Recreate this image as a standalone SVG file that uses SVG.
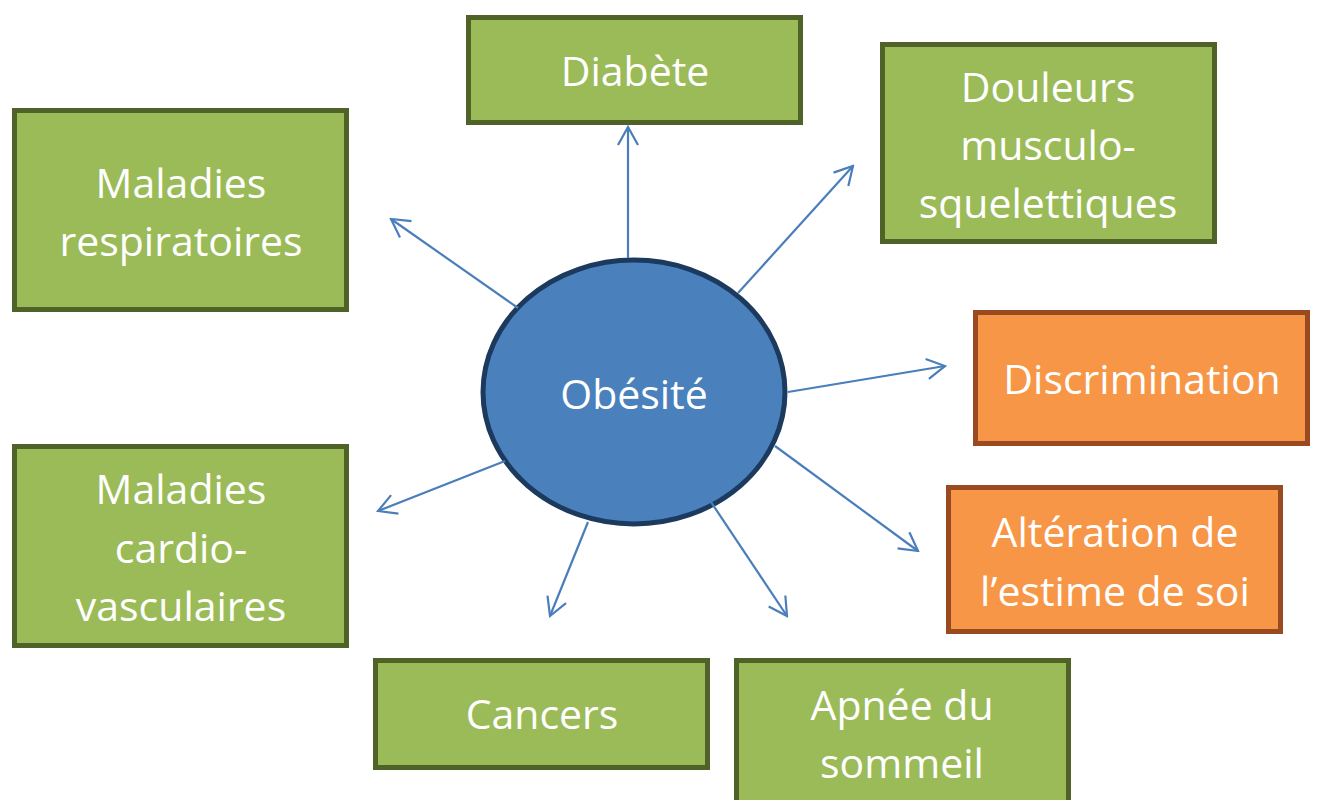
<svg xmlns="http://www.w3.org/2000/svg" width="1317" height="800" viewBox="0 0 1317 800">
<style>
.g{fill:#9bbb59;stroke:#4f6228;stroke-width:5}
.o{fill:#f79646;stroke:#9a4a20;stroke-width:5}
.t{font-family:"Open Sans","Liberation Sans",sans-serif;font-size:41px;fill:#ffffff;text-anchor:middle}
.c{stroke:#4a7ebb;stroke-width:2.2;fill:none;marker-end:url(#ah)}
</style>
<defs>
<marker id="ah" markerUnits="userSpaceOnUse" viewBox="-22 -12 24 24" refX="0" refY="0" markerWidth="24" markerHeight="24" orient="auto">
<path d="M-18,-10 L0,0 L-18,10" fill="none" stroke="#4a7ebb" stroke-width="2.2"/>
</marker>
</defs>
<rect width="1317" height="800" fill="#ffffff"/>
<g id="diabete"><rect class="g" x="468.5" y="17.5" width="332" height="105"/><text class="t" x="635" y="86">Diabète</text></g>
<g id="douleurs"><rect class="g" x="882.5" y="44.5" width="332" height="197"/><text class="t" x="1048" y="102">Douleurs</text><text class="t" x="1048" y="160">musculo-</text><text class="t" x="1048" y="218">squelettiques</text></g>
<g id="respiratoires"><rect class="g" x="14.5" y="110.5" width="332" height="199"/><text class="t" x="181" y="198">Maladies</text><text class="t" x="181" y="256">respiratoires</text></g>
<g id="discrimination"><rect class="o" x="975.5" y="312.5" width="332" height="131"/><text class="t" x="1142" y="394">Discrimination</text></g>
<g id="alteration"><rect class="o" x="948.5" y="487.5" width="332" height="144"/><text class="t" x="1115" y="547">Altération de</text><text class="t" x="1115" y="606">l’estime de soi</text></g>
<g id="cardio"><rect class="g" x="14.5" y="446.5" width="332" height="199"/><text class="t" x="181" y="504">Maladies</text><text class="t" x="181" y="563">cardio-</text><text class="t" x="181" y="621">vasculaires</text></g>
<g id="cancers"><rect class="g" x="375.5" y="660.5" width="332" height="107"/><text class="t" x="542" y="729">Cancers</text></g>
<g id="apnee"><rect class="g" x="736.5" y="660.5" width="332" height="150"/><text class="t" x="902" y="720">Apnée du</text><text class="t" x="902" y="778">sommeil</text></g>
<g id="obesite"><ellipse cx="634" cy="392" rx="151" ry="132" fill="#4a81bd" stroke="#1c3a5e" stroke-width="5"/><text class="t" x="634" y="409">Obésité</text></g>
<g id="connectors">
<line class="c" x1="628" y1="258" x2="628" y2="127"/>
<line class="c" x1="738" y1="293" x2="853" y2="166"/>
<line class="c" x1="518" y1="308" x2="391" y2="219"/>
<line class="c" x1="788" y1="392" x2="945" y2="366"/>
<line class="c" x1="775" y1="446" x2="918" y2="551"/>
<line class="c" x1="505" y1="461" x2="378" y2="511"/>
<line class="c" x1="588" y1="522" x2="550" y2="616"/>
<line class="c" x1="709" y1="499" x2="787" y2="616"/>
</g>
</svg>
